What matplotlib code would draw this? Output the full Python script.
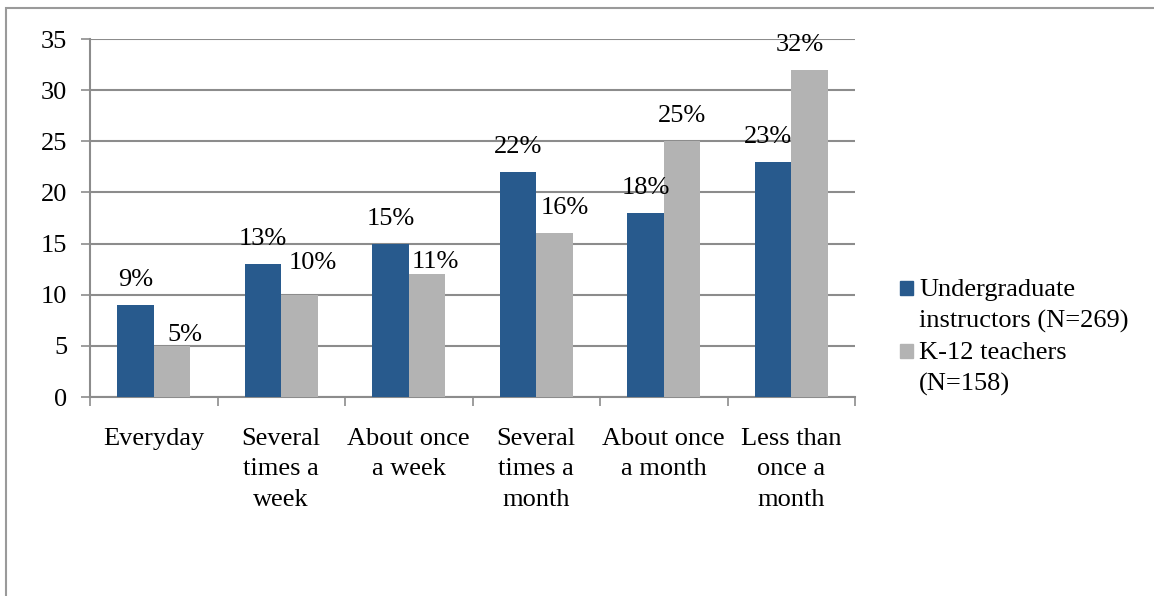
import matplotlib.pyplot as plt
from matplotlib.patches import Rectangle
import numpy as np

# data
categories = ['Everyday', 'Several\ntimes a\nweek', 'About once\na week',
              'Several\ntimes a\nmonth', 'About once\na month', 'Less than\nonce a\nmonth']
undergrad = [9, 13, 15, 22, 18, 23]
k12 = [5, 10, 12, 16, 25, 32]
undergrad_labels = ['9%', '13%', '15%', '22%', '18%', '23%']
k12_labels = ['5%', '10%', '11%', '16%', '25%', '32%']
series_names = ['Undergraduate\ninstructors (N=269)', 'K-12 teachers\n(N=158)']

blue = '#285a8d'
grey = '#b3b3b3'
line_grey = '#8c8c8c'

plt.rcParams['font.family'] = ['Liberation Serif', 'DejaVu Serif']
plt.rcParams['font.size'] = 19

fig = plt.figure(figsize=(11.54, 5.96), dpi=100)
ax = fig.add_axes([90 / 1154, 1 - 397 / 596, 765 / 1154, 358 / 596])

x = np.arange(len(categories))
w = 0.286
b1 = ax.bar(x - w / 2, undergrad, w, color=blue, zorder=3)
b2 = ax.bar(x + w / 2, k12, w, color=grey, zorder=3)

# data labels (small pixel nudges, like Excel placed them)
nudge1 = [(0, 0), (0, 0), (0, 0), (0, 0), (0, 0), (-5, 0)]
nudge2 = [(13, -14), (13, 7), (8, -13), (10, 0), (0, 0), (-10, 0)]
for bars, labels, nudge in [(b1, undergrad_labels, nudge1), (b2, k12_labels, nudge2)]:
    for rect, lab, (dx, dy) in zip(bars, labels, nudge):
        ax.annotate(lab, (rect.get_x() + rect.get_width() / 2, rect.get_height()),
                    xytext=(dx, 25 + dy), textcoords='offset pixels',
                    ha='center', va='center')

ax.set_xlim(-0.5, len(categories) - 0.5)
ax.set_ylim(0, 35)
ax.set_yticks(range(0, 36, 5))
ax.yaxis.grid(True, color=line_grey, linewidth=1.5, zorder=0)
ax.set_axisbelow(True)

ax.set_xticks(x)
ax.set_xticklabels(categories, linespacing=1.5)
ax.set_xticks(np.arange(-0.5, len(categories), 1), minor=True)
ax.tick_params(axis='x', which='major', length=0, pad=22)
ax.tick_params(axis='x', which='minor', length=6.5, width=1.2, color=line_grey, direction='out')
ax.tick_params(axis='y', length=6.5, width=1.2, color=line_grey, pad=10)

for s in ['top', 'right']:
    ax.spines[s].set_visible(False)
for s in ['left', 'bottom']:
    ax.spines[s].set_color(line_grey)
    ax.spines[s].set_linewidth(1.5)

# legend drawn by hand so the square sits on the first line
legend_colors = [blue, grey]
for i, (name, col) in enumerate(zip(series_names, legend_colors)):
    ytop = 1 - (281 + i * 63) / 596
    fig.add_artist(Rectangle((900 / 1154, ytop - 14 / 596), 13 / 1154, 14 / 596,
                             transform=fig.transFigure, color=col))
    fig.text(919 / 1154, ytop + 2 / 596, name, va='top', ha='left',
             linespacing=1.5)

# outer chart frame
fig.add_artist(Rectangle((6 / 1154, -0.05), 1.1, 1.05 - 8 / 596, transform=fig.transFigure,
                         fill=False, edgecolor='#9a9a9a', linewidth=1.5))

fig.savefig('out.png', dpi=100)
